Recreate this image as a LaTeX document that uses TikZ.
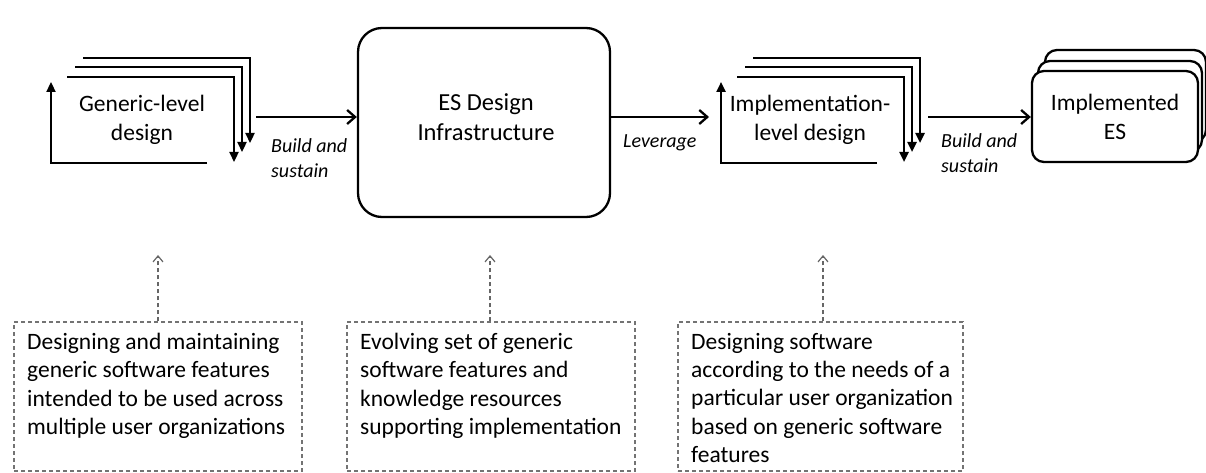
\documentclass[tikz,border=0pt]{standalone}
\usepackage{fontspec}
\setmainfont{Carlito}
\usetikzlibrary{arrows.meta}

\begin{document}
\begin{tikzpicture}[x=1pt,y=-1pt,
  heavy/.style={line width=2.3pt, line cap=butt},
  sheet/.style={heavy, -{Triangle[length=10pt,width=9pt]}},
  flow/.style={heavy, -{Straight Barb[length=8pt,width=14pt]}},
  card/.style={heavy, draw=black, fill=white, rounded corners=12pt},
  notebox/.style={draw=black!55, line width=1.1pt, dash pattern=on 4pt off 3pt, inner sep=0pt},
  notearrow/.style={draw=black!60, line width=1.2pt, dash pattern=on 4pt off 3pt,
    -{Straight Barb[length=6pt,width=10pt,line width=1.2pt]}},
  title/.style={font=\fontsize{23.5}{28.5}\selectfont, align=center, inner sep=0pt},
  action/.style={font=\fontsize{20}{25}\selectfont\itshape, align=left, anchor=west, inner sep=0pt},
  notetext/.style={font=\fontsize{23.5}{28.3}\selectfont, align=left, anchor=north west, inner sep=0pt}
]
\useasboundingbox (0,0) rectangle (1206,473);

% ---- Generic-level design: stacked design sheets ----
\draw[sheet] (83,58) -- (250,58) -- (250,143);
\draw[sheet] (75,67) -- (242,67) -- (242,152);
\draw[sheet] (67,77) -- (234,77) -- (234,162);
\draw[sheet] (207,163) -- (51,163) -- (51,82);
\node[title] (gen) at (142,120) {Generic-level\\design};
\coordinate (genout) at (256,117);

% ---- ES Design Infrastructure ----
\node[heavy, draw, rounded corners=24pt, minimum width=252pt, minimum height=189pt,
  inner sep=0pt] (esd) at (484,122.5) {};
\node[title, font=\fontsize{24.5}{30}\selectfont] (esdtext) at (486,117) {ES Design\\Infrastructure};

% ---- Implementation-level design: stacked design sheets ----
\draw[sheet] (753,58) -- (920,58) -- (920,143);
\draw[sheet] (745,67) -- (912,67) -- (912,152);
\draw[sheet] (737,77) -- (904,77) -- (904,162);
\draw[sheet] (877,163) -- (721,163) -- (721,82);
\node[title] (impl) at (810,120) {Implementation-\\level design};
\coordinate (implin) at (709,117);
\coordinate (implout) at (928,117);

% ---- Implemented ES: stacked cards ----
\draw[card] (1045,50) rectangle (1206,142);
\draw[card] (1038,61) rectangle (1202,152);
\node[card, minimum width=166pt, minimum height=91pt, inner sep=0pt] (ies) at (1115,116.5) {};
\node[title] (iestext) at (1115,117) {Implemented\\ES};

% ---- flows between the stages ----
\draw[flow] (genout) -- (esd.west |- genout);
\draw[flow] (esd.east |- implin) -- (implin);
\draw[flow] (implout) -- (ies.west |- implout);
\node[action] (build1) at (271,158) {Build and\\sustain};
\node[action] (lev) at (623,143) {Leverage};
\node[action] (build2) at (941,153) {Build and\\sustain};

% ---- explanatory notes ----
\node[notebox, minimum width=288pt, minimum height=149pt] (n1) at (158,396.5) {};
\node[notebox, minimum width=288pt, minimum height=149pt] (n2) at (491,396.5) {};
\node[notebox, minimum width=285pt, minimum height=149pt] (n3) at (820.5,396.5) {};
\coordinate (a1) at (158,255);
\coordinate (a2) at (490,255);
\coordinate (a3) at (823,255);
\draw[notearrow] (n1.north) -- (a1);
\draw[notearrow] (a2 |- n2.north) -- (a2);
\draw[notearrow] (a3 |- n3.north) -- (a3);

\node[notetext] (t1) at (27,333) {Designing and maintaining\\generic software features\\intended to be used across\\multiple user organizations};
\node[notetext] (t2) at (360,333) {Evolving set of generic\\software features and\\knowledge resources\\supporting implementation};
\node[notetext] (t3) at (691,333) {Designing software\\according to the needs of a\\particular user organization\\based on generic software\\features};
\end{tikzpicture}
\end{document}
